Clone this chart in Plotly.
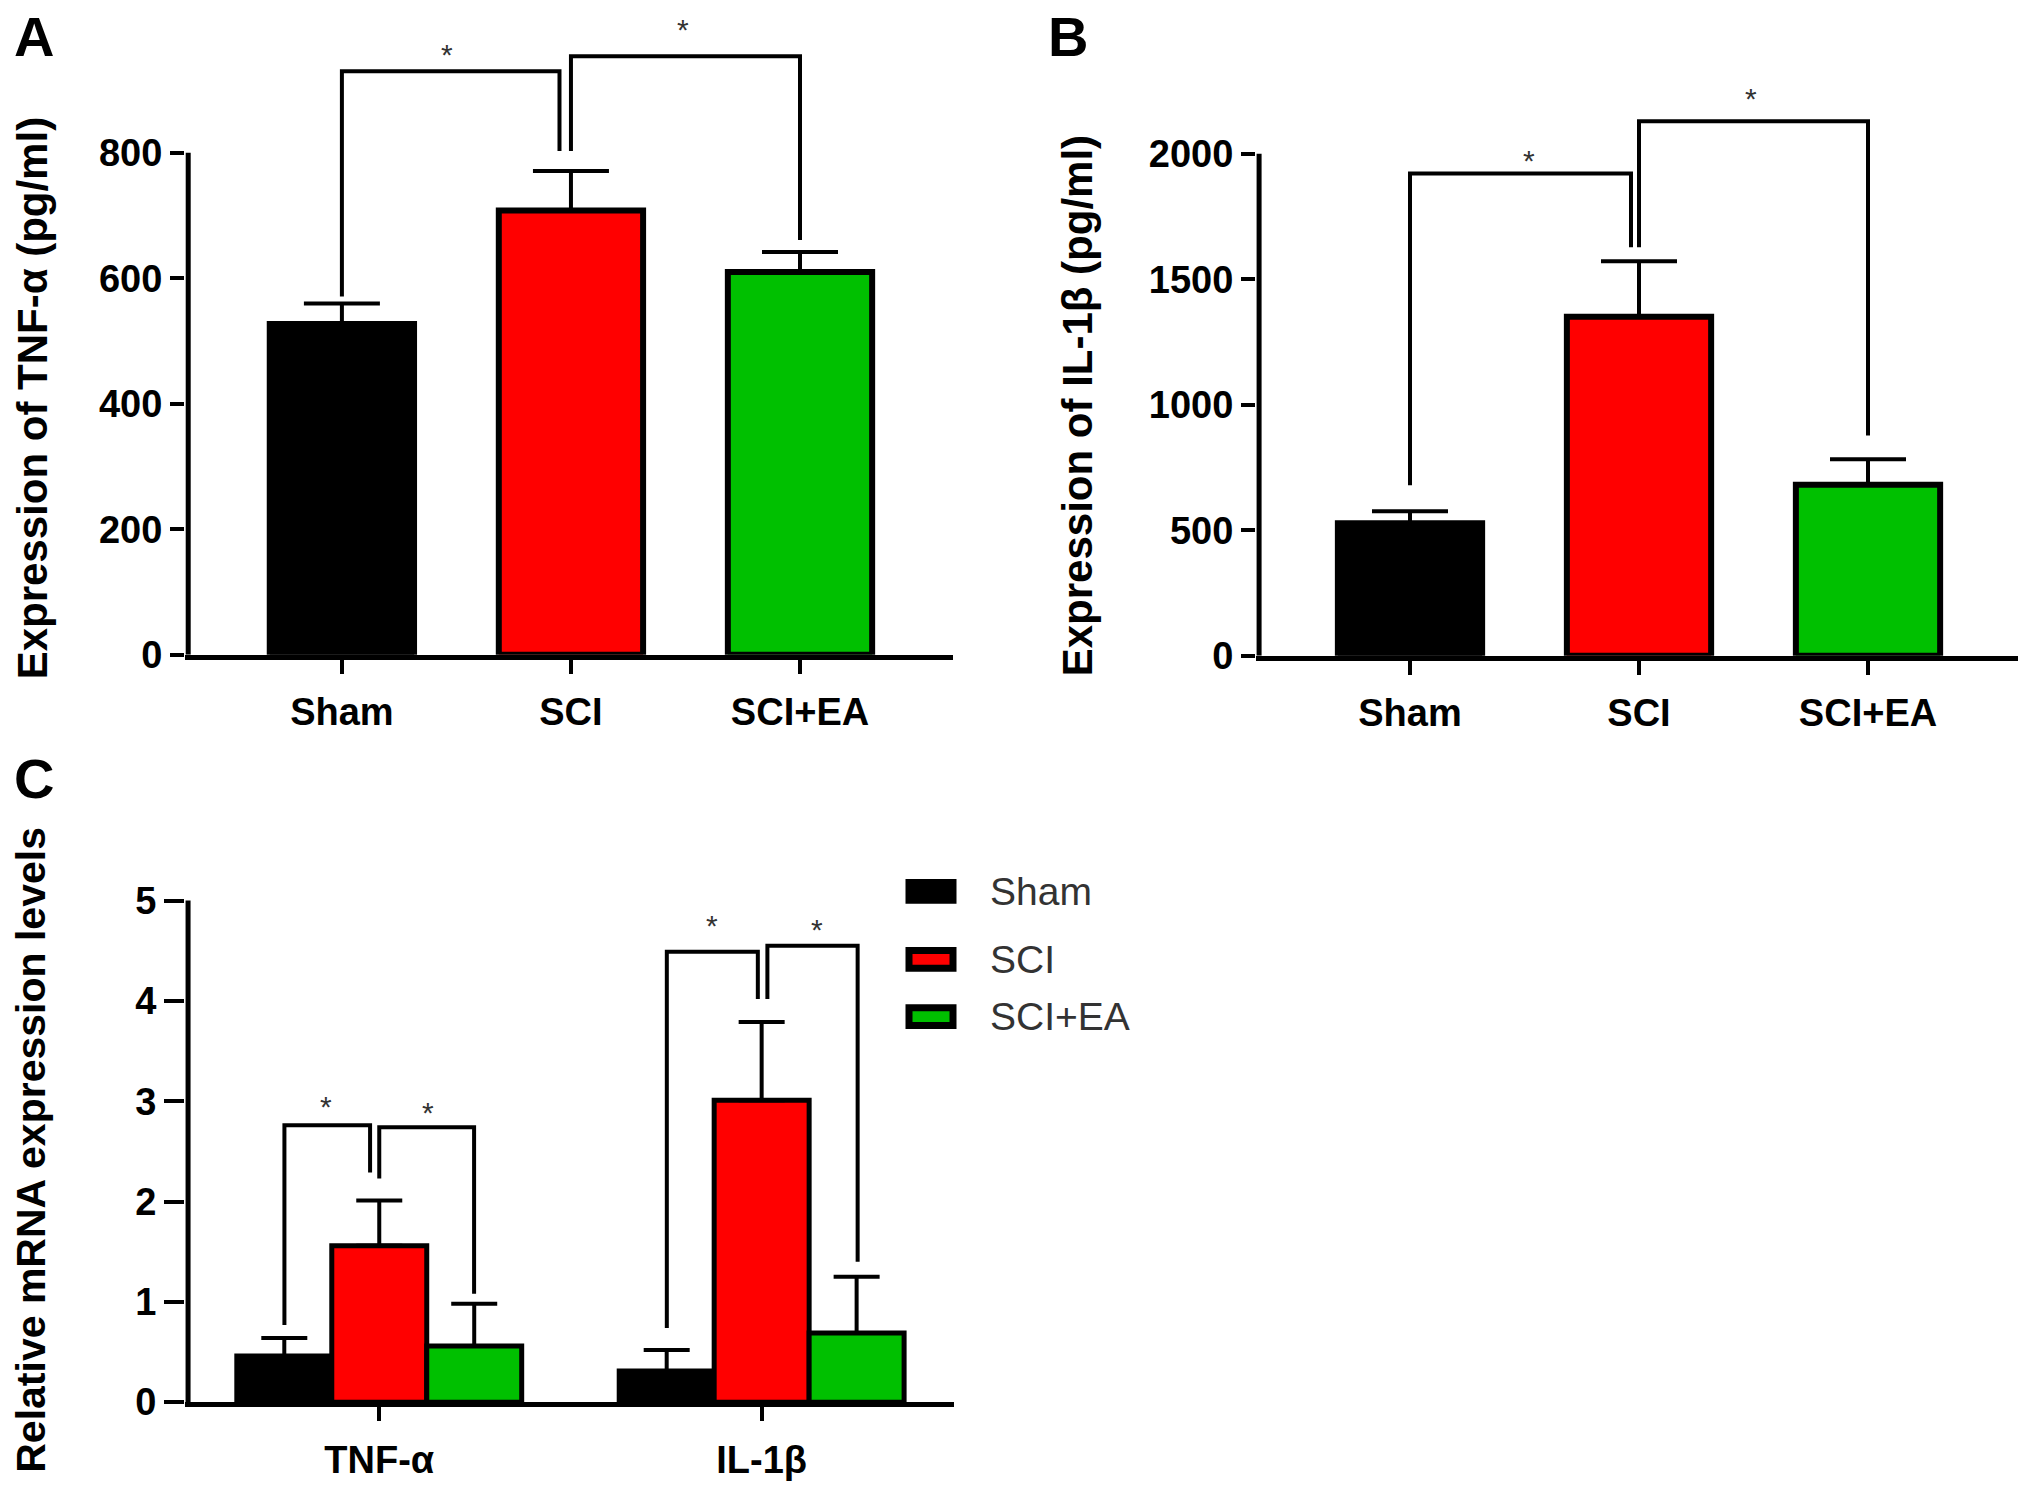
import plotly.graph_objects as go

W, H = 2031, 1506

# ---- data ----
groups = ["Sham", "SCI", "SCI+EA"]
colors = ["#000000", "#ff0000", "#00c000"]

tnf_protein = [527, 708, 610]
tnf_protein_sem = [33, 63, 32]

il1b_protein = [528, 1350, 681]
il1b_protein_sem = [48, 222, 102]

genes = ["TNF-α", "IL-1β"]
mrna_sham = [0.46, 0.31]
mrna_sham_sem = [0.18, 0.21]
mrna_sci = [1.56, 3.01]
mrna_sci_sem = [0.45, 0.78]
mrna_ea = [0.56, 0.69]
mrna_ea_sem = [0.42, 0.56]

# significance brackets: x left, x right, top, left leg end, right leg end
brackets_a = [(0, 0.95, 930, 571, 803), (1.0, 2.0, 954, 803, 661)]
stars_a = [(0.46, 969), (1.49, 1009)]
brackets_b = [(0, 0.965, 1921, 679, 1627), (1.0, 2.0, 2129, 1627, 877)]
stars_b = [(0.52, 2004), (1.49, 2253)]
brackets_c = [(-0.248, -0.024, 2.76, 0.77, 2.29), (0.0, 0.248, 2.74, 2.23, 1.08),
              (0.752, 0.99, 4.49, 0.74, 4.02), (1.015, 1.251, 4.55, 4.02, 1.40)]
stars_c = [(-0.14, 3.03), (0.128, 2.97), (0.87, 4.83), (1.144, 4.79)]


def px(x):
    return x / W


def py(y):
    return 1 - y / H


FONT = "Arial, Liberation Sans, sans-serif"
bold = dict(family=FONT, color="black", weight="bold")

fig = go.Figure()

# panel A
fig.add_trace(go.Bar(
    x=list(range(len(groups))), y=tnf_protein, width=0.63,
    marker=dict(color=colors, line=dict(color="black", width=6)),
    error_y=dict(type="data", array=tnf_protein_sem, arrayminus=[0] * 3, symmetric=False,
                 color="black", thickness=4, width=38),
    xaxis="x", yaxis="y", showlegend=False))

# panel B
fig.add_trace(go.Bar(
    x=list(range(len(groups))), y=il1b_protein, width=0.63,
    marker=dict(color=colors, line=dict(color="black", width=6)),
    error_y=dict(type="data", array=il1b_protein_sem, arrayminus=[0] * 3, symmetric=False,
                 color="black", thickness=4, width=38),
    xaxis="x2", yaxis="y2", showlegend=False))

# panel C
for name, vals, sem, col in zip(groups, [mrna_sham, mrna_sci, mrna_ea],
                                [mrna_sham_sem, mrna_sci_sem, mrna_ea_sem], colors):
    fig.add_trace(go.Bar(
        x=list(range(len(genes))), y=vals, name=name,
        marker=dict(color=col, line=dict(color="black", width=5)),
        error_y=dict(type="data", array=sem, arrayminus=[0] * len(vals), symmetric=False,
                     color="black", thickness=4, width=23),
        xaxis="x3", yaxis="y3", showlegend=False))

shapes = []
annotations = []


def add_axis_line(xref, yref, x, ytop):
    shapes.append(dict(type="line", xref=xref, yref=yref, x0=x, x1=x, y0=0, y1=ytop,
                       line=dict(color="black", width=5)))


def add_brackets(xref, yref, brs, stars):
    for x0, x1, top, e0, e1 in brs:
        shapes.append(dict(type="path", xref=xref, yref=yref,
                           path=f"M{x0},{e0} L{x0},{top} L{x1},{top} L{x1},{e1}",
                           line=dict(color="black", width=4)))
    for sx, sy in stars:
        annotations.append(dict(x=sx, y=sy, xref=xref, yref=yref, text="*", showarrow=False,
                                xanchor="center", yanchor="middle",
                                font=dict(family=FONT, size=30, color="#333"), yshift=-8))


add_axis_line("x", "y", -0.671, 800)
add_axis_line("x2", "y2", -0.659, 2000)
add_axis_line("x3", "y3", -0.5, 5)
add_brackets("x", "y", brackets_a, stars_a)
add_brackets("x2", "y2", brackets_b, stars_b)
add_brackets("x3", "y3", brackets_c, stars_c)

# panel letters
for letter, lx, ly in [("A", 34, 37), ("B", 1068, 37), ("C", 34, 790)]:
    annotations.append(dict(x=px(lx), y=py(ly), xref="paper", yref="paper", text=letter,
                            xanchor="center", yanchor="middle",
                            showarrow=False, font=dict(bold, size=56)))

# y titles
for title, tx, ty, fs in [("Expression of TNF-α (pg/ml)", 32, 404, 42),
                          ("Expression of IL-1β (pg/ml)", 1077, 412, 42),
                          ("Relative mRNA expression levels", 31, 1166, 41)]:
    annotations.append(dict(x=px(tx), y=py(ty), xref="paper", yref="paper", text=title,
                            xanchor="center", yanchor="middle",
                            textangle=-90, showarrow=False, font=dict(bold, size=fs)))

# legend
legend_y = [904, 973, 1031]
for name, col, ly in zip(groups, colors, legend_y):
    shapes.append(dict(type="rect", xref="paper", yref="paper",
                       x0=px(909), x1=px(953), y0=py(ly - 9), y1=py(ly + 9),
                       fillcolor=col, line=dict(color="black", width=7)))
    annotations.append(dict(x=px(988), y=py(ly), xref="paper", yref="paper", text=name,
                            xanchor="left", yanchor="middle", showarrow=False,
                            font=dict(family=FONT, size=39, color="#333")))

tick_y = dict(family=FONT, size=38, color="black", weight="bold")
tick_x = dict(family=FONT, size=38, color="black", weight="bold")

xcommon = dict(showline=True, linecolor="black", linewidth=5, ticks="outside", ticklen=14,
               tickwidth=4, tickcolor="black", showgrid=False, zeroline=False,
               tickfont=tick_x, ticklabelstandoff=6)
ycommon = dict(showline=False, ticks="outside", ticklen=14, tickwidth=4, tickcolor="black",
               showgrid=False, zeroline=False, tickfont=tick_y)

fig.update_layout(
    width=W, height=H,
    margin=dict(l=0, r=0, t=0, b=0),
    paper_bgcolor="white", plot_bgcolor="white",
    barmode="group", bargap=0.255, bargroupgap=0,
    xaxis=dict(xcommon, domain=[px(185), px(953)], range=[-0.685, 2.668],
               tickvals=list(range(len(groups))), ticktext=groups, anchor="y"),
    yaxis=dict(ycommon, domain=[py(664), py(9)], range=[0, 1029.5],
               tickvals=[0, 200, 400, 600, 800], anchor="x"),
    xaxis2=dict(xcommon, domain=[px(1256), px(2018)], range=[-0.6725, 2.655],
                tickvals=list(range(len(groups))), ticktext=groups, anchor="y2"),
    yaxis2=dict(ycommon, domain=[py(665), py(8)], range=[0, 2581],
                tickvals=[0, 500, 1000, 1500, 2000], anchor="x2"),
    xaxis3=dict(xcommon, domain=[px(185), px(954)], range=[-0.508, 1.503],
                tickvals=list(range(len(genes))), ticktext=genes, anchor="y3"),
    yaxis3=dict(ycommon, domain=[py(1422), py(893)], range=[0, 5.2], ticklen=20,
                tickvals=[0, 1, 2, 3, 4, 5], anchor="x3"),
    shapes=shapes,
    annotations=annotations,
)

# drop the default page margin so the figure sits at the window's top-left corner
page_js = ("document.documentElement.style.margin='0';document.body.style.margin='0';"
           "document.documentElement.style.overflow='hidden';document.body.style.overflow='hidden';")
fig.write_html("out.html", config={"displayModeBar": False}, post_script=page_js)
